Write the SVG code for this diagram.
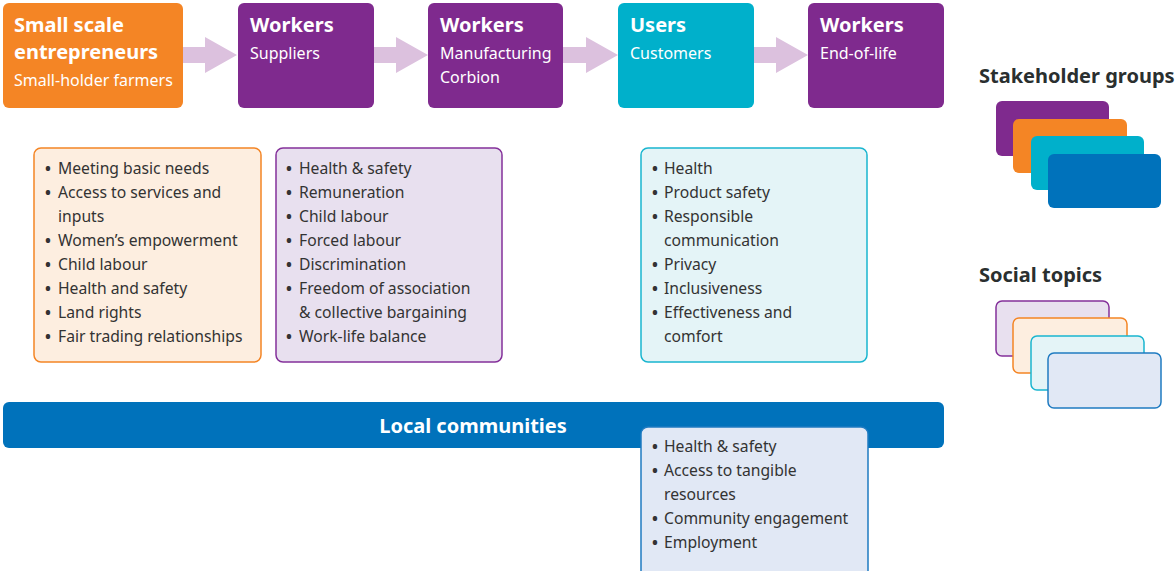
<svg xmlns="http://www.w3.org/2000/svg" width="1176" height="571" viewBox="0 0 1176 571">
<defs>
<style>
text{font-family:"Noto Sans","Liberation Sans",sans-serif;}
.t{font-size:20px;font-weight:bold;fill:#fff;}
.s{font-size:16px;fill:#fff;}
.b{font-size:15.7px;fill:#333;}
.d{font-weight:bold;}
.h{font-size:20px;font-weight:bold;fill:#2a2f2f;}
.arr{fill:#dcc1de;}
.or{fill:#f48525;}
.pu{fill:#7f2a8e;}
.cy{fill:#00b0cb;}
.bl{fill:#0072bb;}
.tor{fill:#fdeee0;stroke:#f48525;stroke-width:1.5;}
.tpu{fill:#e8e0ef;stroke:#84309a;stroke-width:1.5;}
.tcy{fill:#e4f4f7;stroke:#19b5cf;stroke-width:1.5;}
.tbl{fill:#e1e8f5;stroke:#1f7bc1;stroke-width:1.5;}
</style>
</defs>
<g id="connectors">
<polygon class="arr" points="183,47 205,47 205,37 237,55 205,73 205,63 183,63"/>
<polygon class="arr" points="374,47 396,47 396,37 428,55 396,73 396,63 374,63"/>
<polygon class="arr" points="563,47 586,47 586,37 618,55 586,73 586,63 563,63"/>
<polygon class="arr" points="754,47 776,47 776,37 808,55 776,73 776,63 754,63"/>
</g>
<g id="node-entrepreneurs">
<rect class="or" x="3" y="3" width="180" height="105" rx="6"/>
<text class="t" x="14" y="32">Small scale</text>
<text class="t" x="14" y="59">entrepreneurs</text>
<text class="s" x="14" y="86">Small-holder farmers</text>
</g>
<g id="node-workers-suppliers">
<rect class="pu" x="238" y="3" width="136" height="105" rx="6"/>
<text class="t" x="250" y="32">Workers</text>
<text class="s" x="250" y="59">Suppliers</text>
</g>
<g id="node-workers-manufacturing">
<rect class="pu" x="428" y="3" width="135" height="105" rx="6"/>
<text class="t" x="440" y="32">Workers</text>
<text class="s" x="440" y="59">Manufacturing</text>
<text class="s" x="440" y="83">Corbion</text>
</g>
<g id="node-users">
<rect class="cy" x="618" y="3" width="136" height="105" rx="6"/>
<text class="t" x="630" y="32">Users</text>
<text class="s" x="630" y="59">Customers</text>
</g>
<g id="node-workers-eol">
<rect class="pu" x="808" y="3" width="136" height="105" rx="6"/>
<text class="t" x="820" y="32">Workers</text>
<text class="s" x="820" y="59">End-of-life</text>
</g>
<g id="topics-entrepreneurs">
<rect class="tor" x="34" y="148" width="227" height="214" rx="7"/>
<text class="b" x="45" y="174"><tspan class="d">•</tspan><tspan x="58">Meeting basic needs</tspan></text>
<text class="b" x="45" y="198"><tspan class="d">•</tspan><tspan x="58">Access to services and</tspan></text>
<text class="b" x="58" y="222">inputs</text>
<text class="b" x="45" y="246"><tspan class="d">•</tspan><tspan x="58">Women’s empowerment</tspan></text>
<text class="b" x="45" y="270"><tspan class="d">•</tspan><tspan x="58">Child labour</tspan></text>
<text class="b" x="45" y="294"><tspan class="d">•</tspan><tspan x="58">Health and safety</tspan></text>
<text class="b" x="45" y="318"><tspan class="d">•</tspan><tspan x="58">Land rights</tspan></text>
<text class="b" x="45" y="342"><tspan class="d">•</tspan><tspan x="58">Fair trading relationships</tspan></text>
</g>
<g id="topics-workers">
<rect class="tpu" x="276" y="148" width="226" height="214" rx="7"/>
<text class="b" x="286" y="174"><tspan class="d">•</tspan><tspan x="299">Health &amp; safety</tspan></text>
<text class="b" x="286" y="198"><tspan class="d">•</tspan><tspan x="299">Remuneration</tspan></text>
<text class="b" x="286" y="222"><tspan class="d">•</tspan><tspan x="299">Child labour</tspan></text>
<text class="b" x="286" y="246"><tspan class="d">•</tspan><tspan x="299">Forced labour</tspan></text>
<text class="b" x="286" y="270"><tspan class="d">•</tspan><tspan x="299">Discrimination</tspan></text>
<text class="b" x="286" y="294"><tspan class="d">•</tspan><tspan x="299">Freedom of association</tspan></text>
<text class="b" x="299" y="318">&amp; collective bargaining</text>
<text class="b" x="286" y="342"><tspan class="d">•</tspan><tspan x="299">Work-life balance</tspan></text>
</g>
<g id="topics-users">
<rect class="tcy" x="641" y="148" width="226" height="214" rx="7"/>
<text class="b" x="652" y="174"><tspan class="d">•</tspan><tspan x="664">Health</tspan></text>
<text class="b" x="652" y="198"><tspan class="d">•</tspan><tspan x="664">Product safety</tspan></text>
<text class="b" x="652" y="222"><tspan class="d">•</tspan><tspan x="664">Responsible</tspan></text>
<text class="b" x="664" y="246">communication</text>
<text class="b" x="652" y="270"><tspan class="d">•</tspan><tspan x="664">Privacy</tspan></text>
<text class="b" x="652" y="294"><tspan class="d">•</tspan><tspan x="664">Inclusiveness</tspan></text>
<text class="b" x="652" y="318"><tspan class="d">•</tspan><tspan x="664">Effectiveness and</tspan></text>
<text class="b" x="664" y="342">comfort</text>
</g>
<g id="node-local-communities">
<rect class="bl" x="3" y="402" width="941" height="46" rx="6"/>
<text class="t" x="473" y="433" text-anchor="middle">Local communities</text>
</g>
<g id="topics-local">
<rect class="tbl" x="641" y="427" width="227" height="160" rx="7"/>
<text class="b" x="652" y="452"><tspan class="d">•</tspan><tspan x="664">Health &amp; safety</tspan></text>
<text class="b" x="652" y="476"><tspan class="d">•</tspan><tspan x="664">Access to tangible</tspan></text>
<text class="b" x="664" y="500">resources</text>
<text class="b" x="652" y="524"><tspan class="d">•</tspan><tspan x="664">Community engagement</tspan></text>
<text class="b" x="652" y="548"><tspan class="d">•</tspan><tspan x="664">Employment</tspan></text>
</g>
<g id="legend-stakeholders">
<text class="h" x="979" y="83">Stakeholder groups</text>
<rect class="pu" x="996" y="101" width="113" height="55" rx="6"/>
<rect class="or" x="1013" y="119" width="114" height="54" rx="6"/>
<rect class="cy" x="1031" y="136" width="113" height="54" rx="6"/>
<rect class="bl" x="1048" y="154" width="113" height="54" rx="6"/>
</g>
<g id="legend-topics">
<text class="h" x="979" y="282">Social topics</text>
<rect class="tpu" x="996" y="301" width="113" height="55" rx="6"/>
<rect class="tor" x="1013" y="318" width="114" height="55" rx="6"/>
<rect class="tcy" x="1031" y="336" width="113" height="54" rx="6"/>
<rect class="tbl" x="1048" y="353" width="113" height="55" rx="6"/>
</g>
</svg>
